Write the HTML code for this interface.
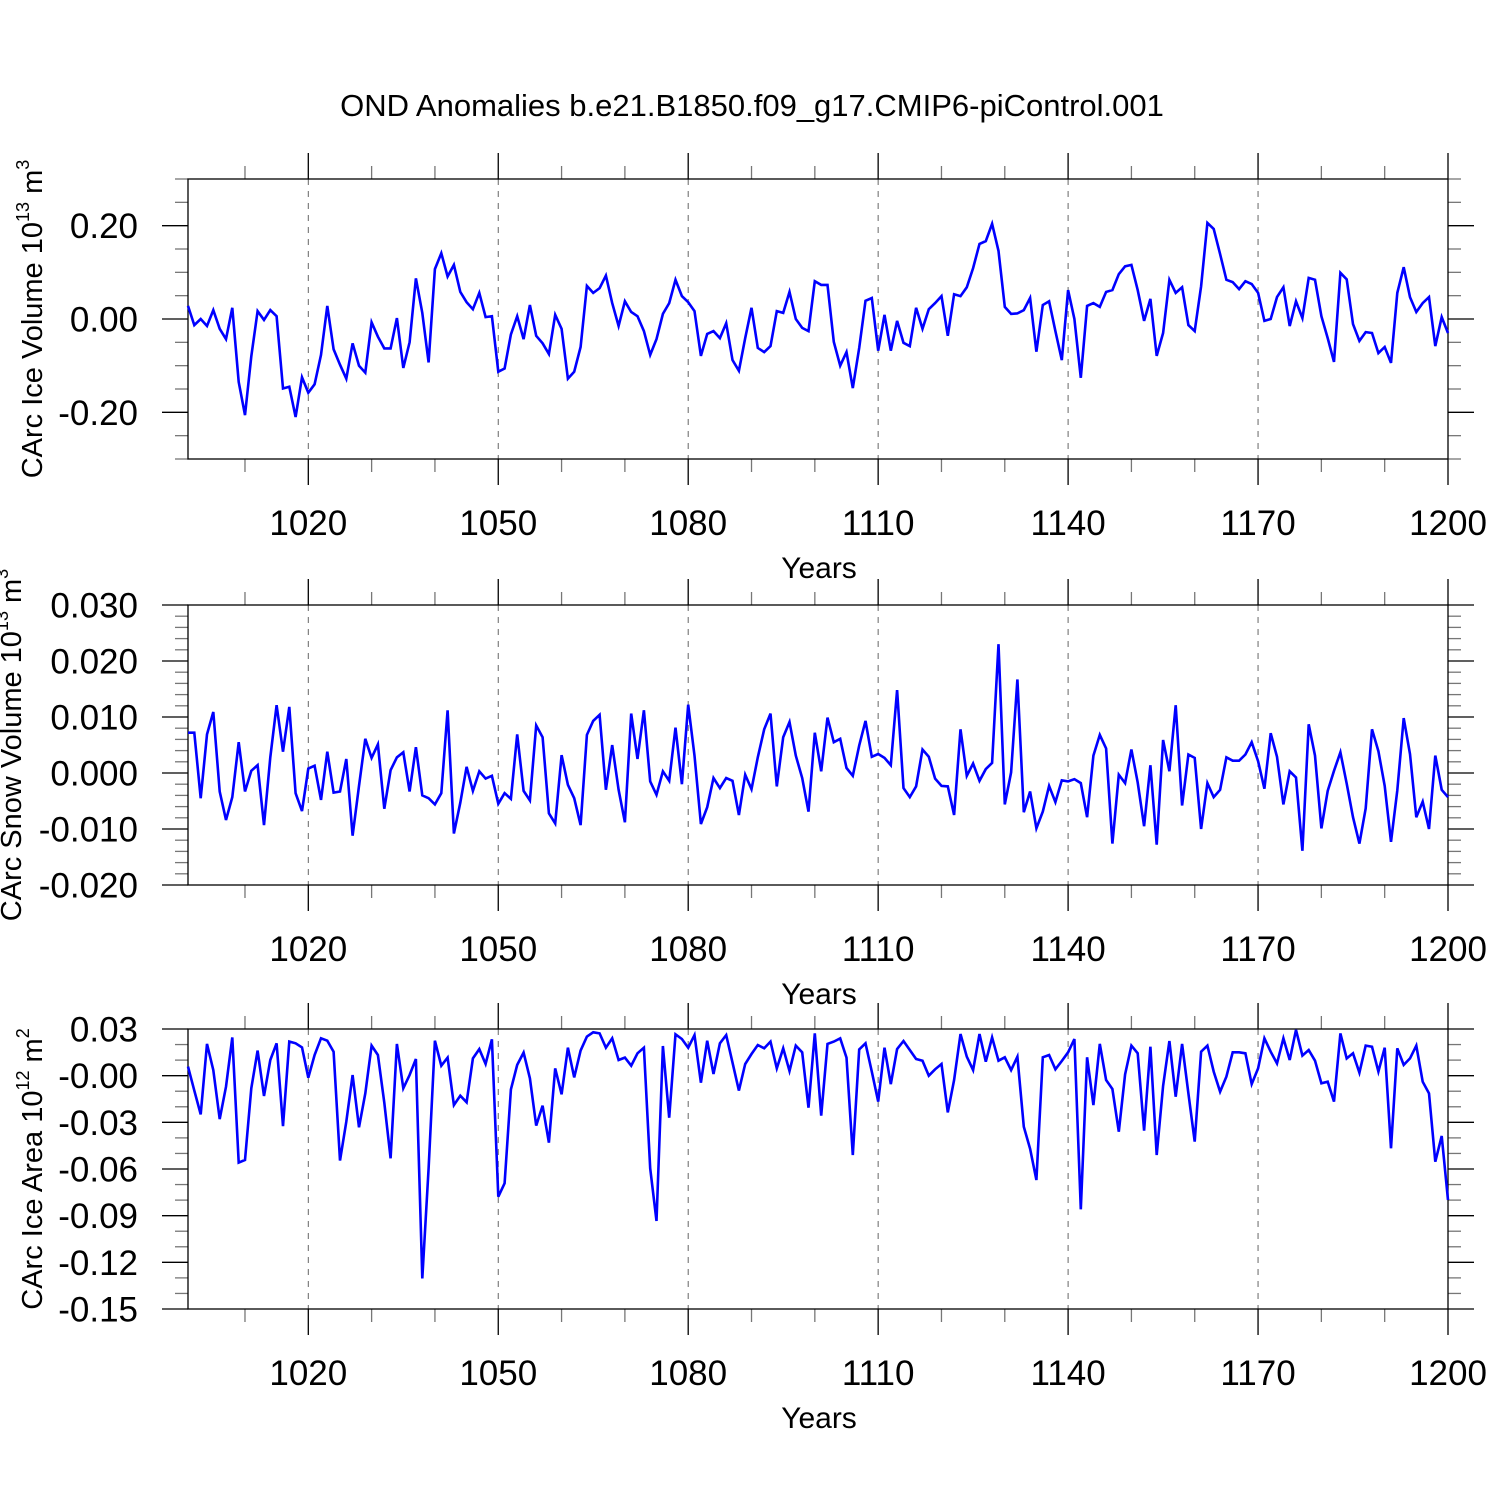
<!DOCTYPE html>
<html><head><meta charset="utf-8"><style>
html,body{margin:0;padding:0;background:#fff;}
svg{display:block;font-family:"Liberation Sans",Arial,sans-serif;}
</style></head><body>
<svg id="chart" width="1500" height="1500" viewBox="0 0 1500 1500" xmlns="http://www.w3.org/2000/svg">
<rect x="0" y="0" width="1500" height="1500" fill="#fff"/>
<text x="752" y="116" font-size="31" text-anchor="middle">OND Anomalies b.e21.B1850.f09_g17.CMIP6-piControl.001</text>
<g id="plots"></g>
</svg>
<script>
const years = []; for (let y = 1001; y <= 1200; y++) years.push(y);
const xTickYears = [1020, 1050, 1080, 1110, 1140, 1170, 1200];
const iceVolume = [
0.028,-0.013,0.0,-0.015,0.019,-0.021,-0.043,0.024,-0.135,-0.206,
-0.08,0.017,-0.002,0.019,0.006,-0.149,-0.145,-0.21,-0.125,-0.158,
-0.14,-0.077,0.028,-0.065,-0.098,-0.128,-0.052,-0.1,-0.115,-0.007,
-0.038,-0.063,-0.063,0.002,-0.105,-0.05,0.087,0.013,-0.093,0.107,
0.141,0.091,0.116,0.058,0.036,0.021,0.056,0.004,0.006,-0.113,
-0.106,-0.033,0.006,-0.043,0.03,-0.036,-0.052,-0.075,0.009,-0.021,
-0.128,-0.113,-0.06,0.071,0.056,0.066,0.093,0.034,-0.015,0.038,
0.015,0.006,-0.026,-0.077,-0.043,0.011,0.034,0.084,0.049,0.036,
0.017,-0.079,-0.032,-0.026,-0.041,-0.009,-0.088,-0.111,-0.041,0.024,
-0.062,-0.071,-0.058,0.017,0.013,0.058,0.0,-0.019,-0.026,0.081,
0.073,0.073,-0.049,-0.1,-0.071,-0.148,-0.062,0.039,0.045,-0.068,
0.009,-0.068,-0.004,-0.051,-0.058,0.024,-0.021,0.021,0.034,0.049,
-0.036,0.053,0.049,0.068,0.109,0.161,0.167,0.204,0.146,0.026,
0.011,0.012,0.019,0.045,-0.07,0.03,0.038,-0.026,-0.088,0.062,
0.0,-0.126,0.028,0.034,0.026,0.058,0.062,0.096,0.113,0.116,
0.062,-0.004,0.043,-0.079,-0.03,0.084,0.056,0.068,-0.013,-0.026,
0.07,0.206,0.193,0.139,0.084,0.079,0.064,0.081,0.075,0.056,
-0.004,0.0,0.047,0.068,-0.015,0.038,0.002,0.088,0.084,0.006,
-0.041,-0.092,0.099,0.085,-0.011,-0.047,-0.028,-0.03,-0.073,-0.06,
-0.094,0.056,0.111,0.047,0.015,0.034,0.047,-0.058,0.004,-0.03];
const snowVolume = [
7.2,7.2,-4.5,6.9,10.9,-3.3,-8.4,-4.3,5.5,-3.3,
0.4,1.4,-9.3,2.8,12.1,3.8,11.8,-3.6,-6.8,0.8,
1.3,-4.8,3.8,-3.5,-3.3,2.5,-11.2,-2.3,6.1,2.7,
5.1,-6.4,0.5,2.8,3.7,-3.3,4.6,-4.0,-4.5,-5.6,
-3.6,11.2,-10.8,-5.3,1.1,-3.2,0.3,-1.0,-0.5,-5.5,
-3.6,-4.6,6.9,-3.2,-4.9,8.5,6.4,-7.2,-9.0,3.2,
-2.1,-4.5,-9.3,6.8,9.3,10.4,-3.0,5.0,-3.0,-8.8,
10.6,2.5,11.2,-1.5,-3.9,0.3,-1.4,8.1,-2.0,12.2,
3.1,-9.1,-6.1,-0.9,-2.7,-0.9,-1.4,-7.5,-0.3,-2.9,
2.8,7.8,10.6,-2.4,6.4,9.1,3.1,-0.9,-6.9,7.2,
0.3,9.9,5.5,6.1,0.9,-0.5,4.9,9.3,2.9,3.4,
2.7,1.4,14.8,-2.7,-4.3,-2.4,4.2,2.9,-1.0,-2.3,
-2.4,-7.5,7.8,-0.5,1.7,-1.4,0.7,1.8,23.0,-5.6,
0.1,16.7,-7.0,-3.3,-9.9,-6.9,-2.3,-5.2,-1.3,-1.5,
-1.1,-1.8,-7.9,3.1,6.8,4.4,-12.6,-0.3,-1.8,4.2,
-1.7,-9.5,1.4,-12.8,5.9,0.3,12.1,-5.8,3.3,2.7,
-10.0,-1.8,-4.3,-3.0,2.8,2.2,2.2,3.3,5.5,2.1,
-2.8,7.1,2.9,-5.6,0.3,-0.8,-13.9,8.7,3.1,-9.9,
-3.2,0.4,3.7,-1.9,-7.9,-12.6,-6.3,7.8,3.9,-2.3,
-12.3,-3.1,9.8,3.4,-7.9,-5.1,-10.0,3.1,-3.0,-4.3];
const iceArea = [
5.8,-9.6,-24.9,20.4,3.6,-27.9,-7.1,24.6,-55.9,-54.2,
-8.1,16.1,-13.1,10.1,20.8,-32.4,21.9,20.8,18.2,-1.3,
13.3,24.0,22.5,15.4,-54.6,-29.6,0.4,-33.2,-11.4,19.3,
13.3,-17.4,-53.1,20.4,-8.1,0.4,10.7,-130.3,-59.6,22.5,
6.4,11.6,-18.9,-12.9,-17.1,11.1,17.1,7.5,23.4,-77.8,
-69.2,-8.8,6.9,14.8,-1.7,-32.1,-19.3,-43.1,4.7,-12.0,
18.0,-1.1,16.1,25.1,27.9,27.2,18.0,24.0,10.1,11.6,
6.4,14.4,18.0,-59.6,-93.4,19.1,-27.0,26.6,23.6,18.0,
26.1,-4.5,22.5,1.1,20.8,26.1,8.4,-9.6,7.5,13.9,
19.7,17.6,21.9,4.7,17.6,3.0,19.3,15.0,-20.6,27.2,
-25.7,20.4,21.9,24.0,11.6,-51.0,16.9,20.8,2.6,-16.7,
18.0,-5.4,17.1,22.3,16.5,10.7,9.6,0,4.1,7.5,
-23.6,-2.8,26.8,12.2,3.6,26.8,9.0,24.6,9.6,11.8,
3.6,12.2,-32.8,-47.0,-67.1,11.8,13.3,4.1,9.4,15.0,
23.6,-85.9,11.8,-18.9,20.4,-2.8,-8.6,-36.0,0.9,19.3,
14.4,-35.4,18.6,-51.0,-6.6,22.3,-13.5,20.4,-11.4,-42.4,
15.4,19.3,2.6,-10.3,-0.6,15.0,15.0,14.4,-5.4,4.7,
24.0,15.4,7.9,24.0,10.1,29.4,12.9,16.5,9.6,-4.9,
-3.9,-16.7,27.2,11.1,14.4,1.9,19.3,18.6,2.6,18.0,
-46.7,17.6,6.9,11.1,19.3,-3.9,-11.4,-55.3,-38.8,-79.9];
const iceTicks = [-0.2, 0, 0.2];
const iceTickLabels = ["-0.20", "0.00", "0.20"];
const snowTicks = [-20, -10, 0, 10, 20, 30];
const snowTickLabels = ["-0.020", "-0.010", "0.000", "0.010", "0.020", "0.030"];
const areaTicks = [-150, -120, -90, -60, -30, 0, 30];
const areaTickLabels = ["-0.15", "-0.12", "-0.09", "-0.06", "-0.03", "-0.00", "0.03"];

const NS = "http://www.w3.org/2000/svg";
const root = document.getElementById("plots");
const X0 = 188, X1 = 1448, H = 280;
function xScale(yr) { return X0 + (yr - 1001) * (X1 - X0) / 199; }
function mk(tag, attrs, parent) {
  const e = document.createElementNS(NS, tag);
  for (const k in attrs) e.setAttribute(k, attrs[k]);
  (parent || root).appendChild(e);
  return e;
}
const panels = [
  {key: "ice-volume", top: 179, min: -0.3, max: 0.3, data: iceVolume, ticks: iceTicks, labels: iceTickLabels, minor: 0.05,
   title: ["CArc Ice Volume 10", "13", " m", "3"], tx: 42, ty: 319},
  {key: "snow-volume", top: 605, min: -20, max: 30, data: snowVolume, ticks: snowTicks, labels: snowTickLabels, minor: 2,
   title: ["CArc Snow Volume 10", "13", " m", "3"], tx: 21, ty: 745},
  {key: "ice-area", top: 1029, min: -150, max: 30, data: iceArea, ticks: areaTicks, labels: areaTickLabels, minor: 10,
   title: ["CArc Ice Area 10", "12", " m", "2"], tx: 42, ty: 1169}
];
panels.forEach(p => {
  const g = mk("g", {});
  
  
  const bot = p.top + H;
  const yS = v => bot - (v - p.min) / (p.max - p.min) * H;
  xTickYears.slice(0, -1).forEach(yr => {
    const l = mk("line", {x1: xScale(yr), x2: xScale(yr), y1: p.top, y2: bot, stroke: "#666", "stroke-width": 1, "stroke-dasharray": "6,6"}, g);
    
    
  });
  for (let yr = 1010; yr <= 1200; yr += 10) {
    if (xTickYears.includes(yr)) continue;
    const x = xScale(yr);
    mk("line", {x1: x, x2: x, y1: p.top, y2: p.top - 13, stroke: "#777", "stroke-width": 1.3}, g);
    mk("line", {x1: x, x2: x, y1: bot, y2: bot + 13, stroke: "#777", "stroke-width": 1.3}, g);
  }
  xTickYears.forEach(yr => {
    const x = xScale(yr);
    mk("line", {x1: x, x2: x, y1: p.top, y2: p.top - 26, stroke: "#000", "stroke-width": 1.3}, g);
    mk("line", {x1: x, x2: x, y1: bot, y2: bot + 26, stroke: "#000", "stroke-width": 1.3}, g);
    const t = mk("text", {x: x, y: bot + 76, "font-size": 35, "text-anchor": "middle"}, g);
    t.textContent = yr;
    
    
  });
  const n = Math.round((p.max - p.min) / p.minor);
  for (let i = 0; i <= n; i++) {
    const v = p.min + i * p.minor;
    if (p.ticks.some(t => Math.abs(t - v) < 1e-9)) continue;
    const y = yS(v);
    mk("line", {x1: X0, x2: X0 - 13, y1: y, y2: y, stroke: "#777", "stroke-width": 1.3}, g);
    mk("line", {x1: X1, x2: X1 + 13, y1: y, y2: y, stroke: "#777", "stroke-width": 1.3}, g);
  }
  p.ticks.forEach((v, i) => {
    const y = yS(v);
    mk("line", {x1: X0, x2: X0 - 26, y1: y, y2: y, stroke: "#000", "stroke-width": 1.3}, g);
    mk("line", {x1: X1, x2: X1 + 26, y1: y, y2: y, stroke: "#000", "stroke-width": 1.3}, g);
    const t = mk("text", {x: 138, y: y + 12.5, "font-size": 35, "text-anchor": "end"}, g);
    t.textContent = p.labels[i];
    
    
  });
  const fr = mk("rect", {x: X0, y: p.top, width: X1 - X0, height: H, fill: "none", stroke: "#000", "stroke-width": 1.3}, g);
  
  
  const pts = p.data.map((v, i) => xScale(years[i]).toFixed(1) + "," + yS(v).toFixed(1)).join(" ");
  const line = mk("polyline", {points: pts, fill: "none", stroke: "#0000ff", "stroke-width": 2.6, "stroke-linejoin": "miter"}, g);
  
  
  const xt = mk("text", {x: 819, y: bot + 119, "font-size": 30, "text-anchor": "middle"}, g);
  xt.textContent = "Years";
  
  
  const yt = mk("text", {x: 0, y: 0, "font-size": 29, "text-anchor": "middle", transform: "translate(" + p.tx + "," + p.ty + ") rotate(-90)"}, g);
  
  
  const parts = p.title;
  [[parts[0], 0], [parts[1], 1], [parts[2], 2], [parts[3], 1]].forEach(([s, sup], k) => {
    const ts = mk("tspan", {}, yt);
    if (sup === 1) { ts.setAttribute("font-size", "18"); ts.setAttribute("dy", "-13"); }
    else if (k === 2) { ts.setAttribute("dy", "13"); }
    ts.textContent = s;
  });
});
</script>
</body></html>
